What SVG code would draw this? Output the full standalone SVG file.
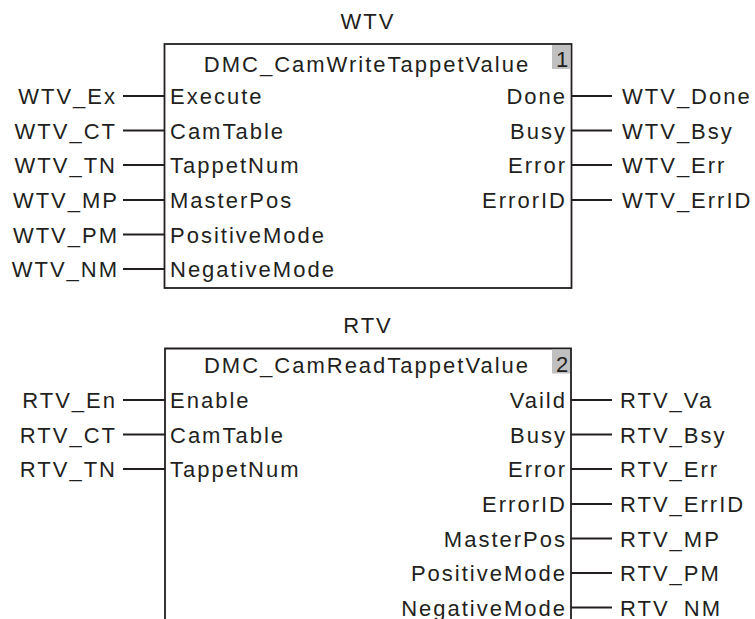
<svg xmlns="http://www.w3.org/2000/svg" width="755" height="619" viewBox="0 0 755 619">
<style>
text{font-family:"Liberation Sans",Arial,sans-serif;font-size:22px;fill:#231f20;letter-spacing:2px}
.c{text-anchor:middle}
.e{text-anchor:end}
.box{fill:#fff;stroke:#231f20;stroke-width:1.8}
.w{stroke:#231f20;stroke-width:1.8;fill:none}
.badge{fill:#c0c0c0}
</style>
<rect width="755" height="619" fill="#fff"/>
<g id="wtv">
<text class="c" x="368" y="29">WTV</text>
<rect class="box" x="164.5" y="44" width="407" height="244"/>
<rect class="badge" x="552" y="45" width="18" height="24"/>
<text class="c" x="562" y="67" style="letter-spacing:0">1</text>
<text class="c" x="367" y="72">DMC_CamWriteTappetValue</text>
<text x="170" y="104">Execute</text>
<text x="170" y="138.5">CamTable</text>
<text x="170" y="173">TappetNum</text>
<text x="170" y="208">MasterPos</text>
<text x="170" y="242.5">PositiveMode</text>
<text x="170" y="277">NegativeMode</text>
<text class="e" x="567" y="104">Done</text>
<text class="e" x="567" y="138.5">Busy</text>
<text class="e" x="567" y="173">Error</text>
<text class="e" x="567" y="208">ErrorID</text>
<text class="e" x="117" y="104">WTV_Ex</text>
<text class="e" x="117" y="138.5">WTV_CT</text>
<text class="e" x="117" y="173">WTV_TN</text>
<text class="e" x="119" y="208">WTV_MP</text>
<text class="e" x="119" y="242.5">WTV_PM</text>
<text class="e" x="119" y="277">WTV_NM</text>
<text x="622" y="104">WTV_Done</text>
<text x="622" y="138.5">WTV_Bsy</text>
<text x="622" y="173">WTV_Err</text>
<text x="622" y="208">WTV_ErrID</text>
</g>
<g id="rtv">
<text class="c" x="368" y="333">RTV</text>
<path class="w" d="M165 625V348.5H571V625"/>
<rect class="badge" x="552" y="349.5" width="18" height="24"/>
<text class="c" x="562" y="372" style="letter-spacing:0">2</text>
<text class="c" x="367" y="373">DMC_CamReadTappetValue</text>
<text x="170" y="408">Enable</text>
<text x="170" y="442.5">CamTable</text>
<text x="170" y="477">TappetNum</text>
<text class="e" x="567" y="408">Vaild</text>
<text class="e" x="567" y="442.5">Busy</text>
<text class="e" x="567" y="477">Error</text>
<text class="e" x="567" y="512">ErrorID</text>
<text class="e" x="567" y="546.5">MasterPos</text>
<text class="e" x="567" y="581">PositiveMode</text>
<text class="e" x="567" y="615.5">NegativeMode</text>
<text class="e" x="117" y="408">RTV_En</text>
<text class="e" x="117" y="442.5">RTV_CT</text>
<text class="e" x="117" y="477">RTV_TN</text>
<text x="620" y="408">RTV_Va</text>
<text x="620" y="442.5">RTV_Bsy</text>
<text x="620" y="477">RTV_Err</text>
<text x="620" y="512">RTV_ErrID</text>
<text x="620" y="546.5">RTV_MP</text>
<text x="620" y="581">RTV_PM</text>
<text x="620" y="615.5">RTV_NM</text>
</g>
<g id="connectors" class="w">
<path d="M123 96H164.5M123 130.5H164.5M123 165H164.5M123 200H164.5M123 234.5H164.5M123 269H164.5"/>
<path d="M571.5 96H612M571.5 130.5H612M571.5 165H612M571.5 200H612"/>
<path d="M123 400H165M123 434.5H165M123 469H165"/>
<path d="M571 400H612M571 434.5H612M571 469H612M571 504H612M571 538.5H612M571 573H612M571 607.5H612"/>
</g>
</svg>
